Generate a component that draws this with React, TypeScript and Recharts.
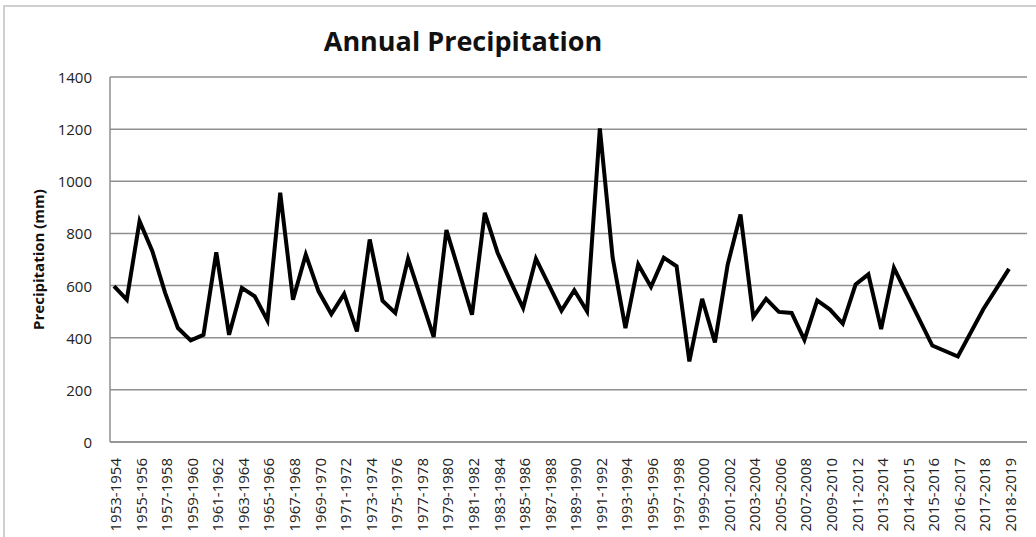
import { CartesianGrid, Line, LineChart, XAxis, YAxis } from 'recharts';

// hydrological years; blanks are unlabeled slots in the source sheet
const periods: string[] = [
    '1953-1954', '1954-1955', '1955-1956', '1956-1957', '1957-1958', '1958-1959',
    '1959-1960', '1960-1961', '1961-1962', '1962-1963', '1963-1964', '1964-1965',
    '1965-1966', '1966-1967', '1967-1968', '1968-1969', '1969-1970', '1970-1971',
    '1971-1972', '1972-1973', '1973-1974', '1974-1975', '1975-1976', '1976-1977',
    '1977-1978', '1978-1979', '1979-1980', '1980-1981', '1981-1982', '1982-1983',
    '1983-1984', '1984-1985', '1985-1986', '1986-1987', '1987-1988', '1988-1989',
    '1989-1990', '1990-1991', '1991-1992', '1992-1993', '1993-1994', '1994-1995',
    '1995-1996', '1996-1997', '1997-1998', '1998-1999', '1999-2000', '2000-2001',
    '2001-2002', '2002-2003', '2003-2004', '2004-2005', '2005-2006', '2006-2007',
    '2007-2008', '2008-2009', '2009-2010', '2010-2011', '2011-2012', '2012-2013',
    '2013-2014', '', '2014-2015', '', '2015-2016', '', '2016-2017', '', '2017-2018',
    '', '2018-2019',
];

const precipitation: (number | null)[] = [
    598, 546, 847, 732, 572, 437, 390, 411, 728, 411,
    591, 559, 466, 956, 546, 719, 578, 491, 568, 424,
    777, 542, 495, 703, 553, 403, 813, 651, 488, 879,
    726, 617, 514, 703, 604, 504, 582, 501, 1203, 707,
    437, 681, 595, 707, 674, 309, 549, 382, 681, 873,
    480, 549, 499, 495, 392, 543, 508, 454, 604, 643,
    433, 668, 568, null, 370, null, 328, null, 510, null,
    664,
];

const yTicks = [0, 200, 400, 600, 800, 1000, 1200, 1400];

const data = periods.map((period, i) => ({
    idx: i,
    period,
    value: precipitation[i],
}));

const font = "'Open Sans', 'DejaVu Sans', sans-serif";

const XTick = ({ x, y, payload }: any) => (
    <text
        x={x + 1}
        y={y + 8}
        transform={`rotate(-90, ${x + 1}, ${y + 8})`}
        textAnchor="end"
        dominantBaseline="central"
        fontFamily={font}
        fontSize={15}
        fill="#222"
    >
        {periods[payload.value]}
    </text>
);

const YTick = ({ y, payload }: any) => (
    <text
        x={92}
        y={y}
        textAnchor="end"
        dominantBaseline="central"
        fontFamily={font}
        fontSize={15}
        fill="#222"
    >
        {payload.value}
    </text>
);

export default function App() {
    return (
        <div
            style={{
                position: 'absolute',
                left: 0,
                top: 0,
                width: 1036,
                height: 537,
                background: '#fff',
            }}
        >
            <div
                style={{
                    position: 'absolute',
                    left: 3,
                    top: 5,
                    right: 0,
                    bottom: 0,
                    borderTop: '2px solid #cfcfcf',
                    borderLeft: '2px solid #cfcfcf',
                }}
            />
            <div
                style={{
                    position: 'absolute',
                    left: 263,
                    width: 400,
                    top: 21,
                    textAlign: 'center',
                    fontFamily: font,
                    fontWeight: 700,
                    fontSize: 27,
                    lineHeight: '40px',
                    color: '#111',
                }}
            >
                Annual Precipitation
            </div>
            <LineChart
                width={1036}
                height={537}
                data={data}
                margin={{ top: 77, right: 9, bottom: 0, left: 0 }}
                style={{ position: 'absolute', left: 0, top: 0 }}
            >
                <CartesianGrid vertical={false} stroke="#8f8f8f" strokeWidth={1.5} />
                <XAxis
                    dataKey="idx"
                    type="category"
                    interval={1}
                    height={95}
                    padding={{ left: 4, right: 18 }}
                    tickLine={false}
                    axisLine={{ stroke: '#8f8f8f', strokeWidth: 1.5 }}
                    tick={<XTick />}
                />
                <YAxis
                    width={110}
                    domain={[0, 1400]}
                    ticks={yTicks}
                    tickLine={false}
                    axisLine={{ stroke: '#8f8f8f', strokeWidth: 1.5 }}
                    tick={<YTick />}
                    label={{
                        value: 'Precipitation (mm)',
                        angle: -90,
                        position: 'insideLeft',
                        dx: 34,
                        style: {
                            fontFamily: font,
                            fontWeight: 700,
                            fontSize: 15,
                            fill: '#111',
                            textAnchor: 'middle',
                        },
                    }}
                />
                <Line
                    type="linear"
                    dataKey="value"
                    stroke="#000"
                    strokeWidth={4}
                    dot={false}
                    connectNulls
                    isAnimationActive={false}
                />
            </LineChart>
        </div>
    );
}
